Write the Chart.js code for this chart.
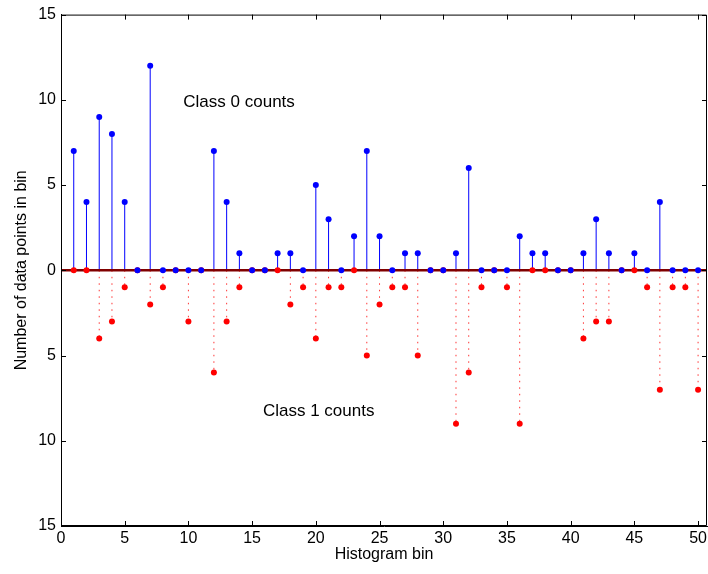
<!DOCTYPE html>
<html>
<head>
<meta charset="utf-8">
<script src="https://cdn.jsdelivr.net/npm/chart.js@4.4.1/dist/chart.umd.min.js"></script>
<style>
  html, body { margin: 0; padding: 0; background: #fff; }
  canvas { display: block; }
</style>
</head>
<body>
<canvas id="stemChart" width="708" height="574"></canvas>
<script>
// --- data ---
const bins = [];
for (let b = 1; b <= 50; b++) bins.push(b);

const class0Counts = [7, 4, 9, 8, 4, 0, 12, 0, 0, 0,
                      0, 7, 4, 1, 0, 0, 1, 1, 0, 5,
                      3, 0, 2, 7, 2, 0, 1, 1, 0, 0,
                      1, 6, 0, 0, 0, 2, 1, 1, 0, 0,
                      1, 3, 1, 0, 1, 0, 4, 0, 0, 0];

const class1Counts = [0, 0, 4, 3, 1, 0, 2, 1, 0, 3,
                      0, 6, 3, 1, 0, 0, 0, 2, 1, 4,
                      1, 1, 0, 5, 2, 1, 1, 5, 0, 0,
                      9, 6, 1, 0, 1, 9, 0, 0, 0, 0,
                      4, 3, 3, 0, 0, 1, 7, 1, 1, 7];

const xTicks = [0, 5, 10, 15, 20, 25, 30, 35, 40, 45, 50];
const yTicks = [-15, -10, -5, 0, 5, 10, 15];
const xLimits = [0, 50.7];
const yLimits = [-15, 15];

const labels = [
  { text: 'Class 0 counts', x: 9.6,  y: 9.85 },
  { text: 'Class 1 counts', x: 15.85, y: -8.3 }
];

const FONT = '"Liberation Sans", Arial, Helvetica, sans-serif';

// stems as broken line segments: (bin,0) -> (bin,v), gap
function stemPoints(vals, sign) {
  const pts = [];
  bins.forEach((b, i) => {
    pts.push({ x: b, y: 0 });
    pts.push({ x: b, y: sign * vals[i] });
    pts.push({ x: b, y: null });
  });
  return pts;
}
function markerPoints(vals, sign) {
  return bins.map((b, i) => ({ x: b, y: sign * vals[i] }));
}

// inward ticks, box and the two text labels
const matlabAxes = {
  id: 'matlabAxes',
  afterDraw(chart) {
    const { ctx, chartArea: a, scales: { x, y } } = chart;
    ctx.save();
    ctx.strokeStyle = '#000';
    ctx.lineWidth = 1;
    ctx.beginPath();
    ctx.rect(a.left + 0.5, a.top + 0.5, a.right - a.left - 1, a.bottom - a.top - 1);
    const tl = 5;
    xTicks.forEach(v => {
      const px = Math.round(x.getPixelForValue(v)) + 0.5;
      ctx.moveTo(px, a.bottom); ctx.lineTo(px, a.bottom - tl);
      ctx.moveTo(px, a.top);    ctx.lineTo(px, a.top + tl);
    });
    yTicks.forEach(v => {
      const py = Math.round(y.getPixelForValue(v)) + 0.5;
      ctx.moveTo(a.left, py);  ctx.lineTo(a.left + tl, py);
      ctx.moveTo(a.right, py); ctx.lineTo(a.right - tl, py);
    });
    ctx.stroke();

    ctx.fillStyle = '#000';
    ctx.font = '17px ' + FONT;
    ctx.textAlign = 'left';
    ctx.textBaseline = 'middle';
    labels.forEach(l => {
      ctx.fillText(l.text, x.getPixelForValue(l.x), y.getPixelForValue(l.y));
    });
    ctx.restore();
  }
};

new Chart(document.getElementById('stemChart'), {
  type: 'scatter',
  data: {
    datasets: [
      {
        label: 'class0 markers',
        data: markerPoints(class0Counts, 1),
        pointRadius: 3,
        pointBackgroundColor: '#0000ff',
        pointBorderWidth: 0,
        order: 0
      },
      {
        label: 'class1 markers',
        data: markerPoints(class1Counts, -1),
        pointRadius: 3,
        pointBackgroundColor: '#ff0000',
        pointBorderWidth: 0,
        order: 1
      },
      {
        label: 'baseline',
        type: 'line',
        data: [{ x: xLimits[0], y: 0 }, { x: xLimits[1], y: 0 }],
        borderColor: '#800000',
        borderWidth: 2.5,
        pointRadius: 0,
        order: 2
      },
      {
        label: 'class0 stems',
        type: 'line',
        data: stemPoints(class0Counts, 1),
        borderColor: '#0000ff',
        borderWidth: 1,
        pointRadius: 0,
        spanGaps: false,
        order: 3
      },
      {
        label: 'class1 stems',
        type: 'line',
        data: stemPoints(class1Counts, -1),
        borderColor: 'rgba(255,0,0,0.8)',
        borderWidth: 1,
        borderDash: [1.5, 5],
        pointRadius: 0,
        spanGaps: false,
        order: 4
      }
    ]
  },
  options: {
    responsive: false,
    animation: false,
    layout: { autoPadding: false, padding: { top: 14, right: 1, left: 0, bottom: 0 } },
    plugins: {
      legend: { display: false },
      tooltip: { enabled: false }
    },
    scales: {
      x: {
        type: 'linear',
        min: xLimits[0], max: xLimits[1],
        afterBuildTicks: s => { s.ticks = xTicks.map(v => ({ value: v })); },
        afterFit: s => { s.height = 48; s.paddingLeft = 0; s.paddingRight = 0; },
        grid: { drawOnChartArea: false, drawTicks: false },
        border: { display: true, color: '#000', width: 1 },
        ticks: { color: '#000', padding: 3, font: { family: FONT, size: 16 }, maxRotation: 0 },
        title: {
          display: true, text: 'Histogram bin', color: '#000',
          font: { family: FONT, size: 16 }, padding: { top: 0, bottom: 10 }
        }
      },
      y: {
        min: yLimits[0], max: yLimits[1],
        afterBuildTicks: s => { s.ticks = yTicks.map(v => ({ value: v })); },
        afterFit: s => { s.width = 61; },
        grid: { drawOnChartArea: false, drawTicks: false },
        border: { display: true, color: '#000', width: 1 },
        ticks: {
          color: '#000', padding: 5, font: { family: FONT, size: 16 },
          callback: v => Math.abs(v)
        },
        title: {
          display: true, text: 'Number of data points in bin', color: '#000',
          font: { family: FONT, size: 16 }, padding: { top: 12, bottom: 0 }
        }
      }
    }
  },
  plugins: [matlabAxes]
});
</script>
</body>
</html>
